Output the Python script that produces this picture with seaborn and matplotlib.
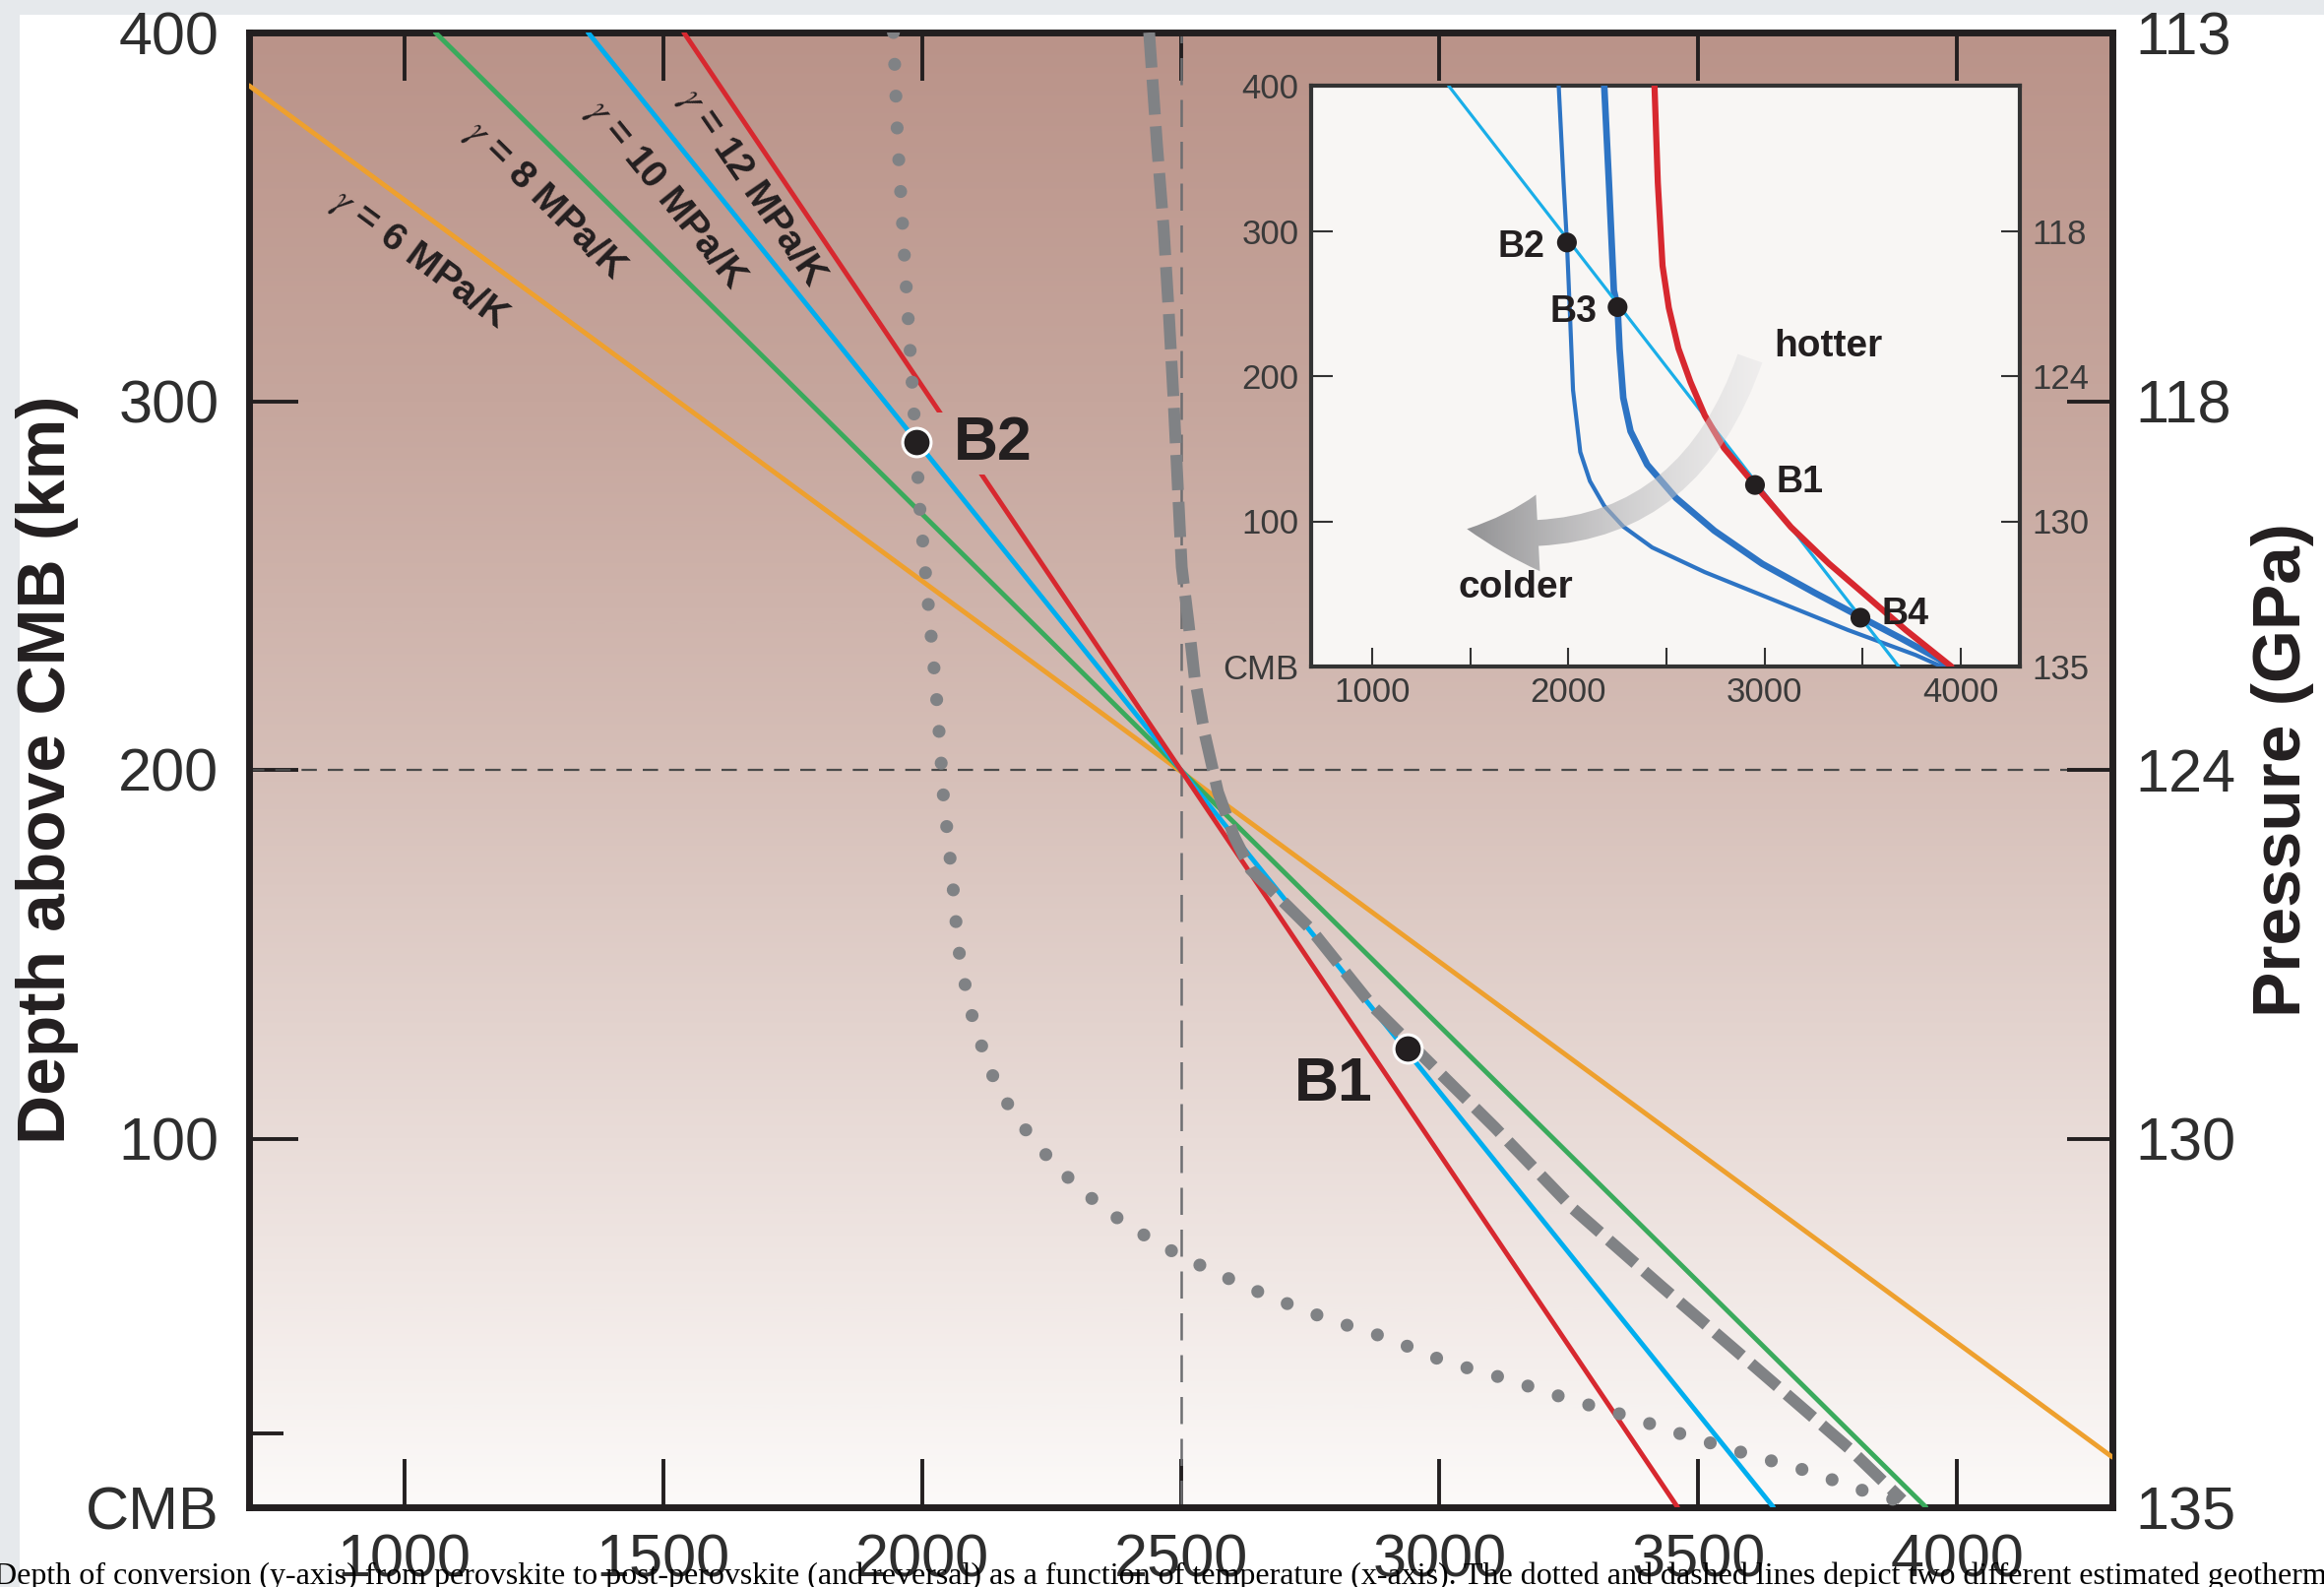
import numpy as np
import pandas as pd
import matplotlib
matplotlib.use("Agg")
import matplotlib.pyplot as plt
import seaborn as sns
from matplotlib.patches import Rectangle, FancyArrowPatch
from matplotlib.colors import LinearSegmentedColormap

# ---------------- data ----------------
depth_ticks = [400, 300, 200, 100, 0]
depth_ticklabels = ["400", "300", "200", "100", "CMB"]
pressure_ticklabels = ["113", "118", "124", "130", "135"]
inset_pressure_ticklabels = ["", "118", "124", "130", "135"]
temp_ticks = [1000, 1500, 2000, 2500, 3000, 3500, 4000]
temp_ticklabels = ["1000", "1500", "2000", "2500", "3000", "3500", "4000"]
inset_temp_ticks = [1000, 2000, 3000, 4000]
inset_temp_ticklabels = ["1000", "2000", "3000", "4000"]
inset_temp_minor = [1500, 2500, 3500]
minor_depth_ticks = [20]

ref_temperature = 2500
ref_depth = 200

# Clapeyron slopes (straight lines, endpoints)
gamma_names = ["$\\gamma$ = 6 MPa/K", "$\\gamma$ = 8 MPa/K",
               "$\\gamma$ = 10 MPa/K", "$\\gamma$ = 12 MPa/K"]
gamma6_T = [700, 4300]
gamma6_depth = [385.6, 13.6]
gamma8_T = [1060, 3940]
gamma8_depth = [400, 0]
gamma10_T = [1355, 3645]
gamma10_depth = [400, 0]
gamma12_T = [1540, 3460]
gamma12_depth = [400, 0]

# geotherms
dotted_T = [1945, 1953, 1968, 1985, 1996, 2011, 2027, 2036, 2040, 2059, 2070,
            2091, 2127, 2154, 2186, 2222, 2262, 2306, 2354, 2405, 2454, 2504,
            2561, 2673, 2785, 2897, 3011, 3124, 3243, 3356, 3475, 3595, 3707,
            3819, 3880]
dotted_depth = [400, 371, 335, 296, 271, 247, 222, 205, 195, 170, 152,
                136, 120, 112, 105, 98.5, 92, 86.5, 80.6, 76, 71.6, 68,
                64, 57, 51, 46, 39.5, 35, 29.6, 25, 19.5, 14.4, 10,
                4.5, 2]
dashed_T = [2439, 2454, 2467, 2477, 2486, 2494, 2502, 2515, 2527, 2546, 2572,
            2603, 2635, 2750, 2870, 3107, 3258, 3428, 3610, 3791, 3894]
dashed_depth = [400, 370, 347, 324, 301, 278, 255, 240, 225, 210, 194,
                182, 173, 157, 136, 103, 81, 60, 38, 16, 2]

b_main_T = [1990, 2938]
b_main_depth = [289, 124.5]

# inset
inset_cyan_T = [1390, 3683]
inset_cyan_depth = [400, 0]
inset_red_T = [2439, 2456, 2480, 2512, 2561, 2622, 2695, 2793, 2951, 3134,
               3329, 3524, 3720, 3951]
inset_red_depth = [400, 333, 276, 247, 219, 196, 173, 150.5, 125, 96,
                   70.7, 48, 25, 0]
inset_blue1_T = [1951, 1976, 1993, 2007, 2024, 2061, 2110, 2183, 2280, 2427,
                 2695, 3061, 3427, 3768, 3902]
inset_blue1_depth = [400, 333, 292, 247.5, 190.4, 147.7, 127.7, 110.6, 96.4,
                     82, 65, 45, 25, 8, 0]
inset_blue2_T = [2183, 2207, 2232, 2251, 2261, 2280, 2317, 2402, 2549, 2744,
                 2988, 3256, 3476, 3695, 3890, 3939]
inset_blue2_depth = [400, 333, 259, 247.5, 219, 185, 162, 139, 116, 93.5,
                     70.7, 50.7, 35, 19.4, 5, 0]
inset_b_names = ["B2", "B3", "B1", "B4"]
inset_b_T = [1993, 2251, 2951, 3488]
inset_b_depth = [292, 247.5, 125, 33.6]

caption = ("Depth of conversion (y-axis) from perovskite to post-perovskite "
           "(and reversal) as a function of temperature (x-axis). The dotted and "
           "dashed lines depict two different estimated geotherms")

# ---------------- style ----------------
W, H, DPI = 2361, 1612, 100
sns.set_theme(style="white")
plt.rcParams["font.family"] = ["Liberation Sans", "DejaVu Sans"]
plt.rcParams["mathtext.fontset"] = "stix"

INK = "#231f20"
TICKC = "#2e2e2e"
RED = "#d7282f"
CYAN = "#00aeef"
GREEN = "#3aaa5c"
ORANGE = "#eea02e"
GRAY = "#808285"
BLUE = "#2d74c4"

fig = plt.figure(figsize=(W / DPI, H / DPI), dpi=DPI)
fig.patch.set_facecolor("white")
fig.add_artist(Rectangle((0, 1 - 15 / H), 1, 15 / H, transform=fig.transFigure,
                         facecolor="#e6e9ec", edgecolor="none", zorder=0))
fig.add_artist(Rectangle((0, 0), 20 / W, 1, transform=fig.transFigure,
                         facecolor="#e6e9ec", edgecolor="none", zorder=0))

# ---------------- main axes ----------------
ax = fig.add_axes([253 / W, 81 / H, 1893 / W, 1498 / H])
ax.set_xlim(700, 4300)
ax.set_ylim(0, 400)

bg = LinearSegmentedColormap.from_list(
    "bg", ["#fcfaf9", "#e9dcd8", "#d6bfb8", "#c6a69d", "#ba9389"])
ax.imshow(np.linspace(0, 1, 512).reshape(-1, 1), extent=[700, 4300, 0, 400],
          origin="lower", aspect="auto", cmap=bg, zorder=0,
          interpolation="bilinear")

# reference lines
ax.axvline(ref_temperature, color="#6d6e71", lw=1.8, dashes=(11, 6), zorder=1)
ax.axhline(ref_depth, color="#4a4a4a", lw=1.6, dashes=(7, 5), zorder=1)

LW = 3.5
def straight(T, d, color):
    sns.lineplot(x=T, y=d, ax=ax, color=color, lw=LW, sort=False,
                 estimator=None, zorder=3)
    return ax.lines[-1]

straight(gamma6_T, gamma6_depth, ORANGE)
straight(gamma8_T, gamma8_depth, GREEN)
straight(gamma10_T, gamma10_depth, CYAN)
# red line is interrupted around the B2 label
l1 = straight(gamma12_T, gamma12_depth, RED)
l1.set_clip_path(Rectangle((700, 297), 3600, 103, transform=ax.transData))
l2 = straight(gamma12_T, gamma12_depth, RED)
l2.set_clip_path(Rectangle((700, 0), 3600, 280, transform=ax.transData))

# geotherms
sns.lineplot(x=dotted_T, y=dotted_depth, ax=ax, color=GRAY, lw=9.5,
             sort=False, estimator=None, zorder=4)
dl = ax.lines[-1]
dl.set_linestyle((0, (0.001, 2.45)))
dl.set_dash_capstyle("round")

sns.lineplot(x=dashed_T, y=dashed_depth, ax=ax, color=GRAY, lw=8.6,
             sort=False, estimator=None, zorder=4)
ax.lines[-1].set_linestyle((0, (3.0, 1.0)))
ax.lines[-1].set_dash_capstyle("butt")

sns.scatterplot(x=b_main_T, y=b_main_depth, ax=ax, s=430, color=INK,
                edgecolor="white", linewidth=2.2, zorder=6)
ax.text(2061, 288.6, "B2", fontsize=45, fontweight="bold", color=INK,
        ha="left", va="center", zorder=7)
ax.text(2795, 114.8, "B1", fontsize=45, fontweight="bold", color=INK,
        ha="center", va="center", zorder=7)

# gamma labels
for name, (tx, ty), rot in zip(gamma_names,
                               [(1031, 338.5), (1272, 354.5),
                                (1505, 356), (1672, 358)],
                               [-36.5, -44.5, -51, -55.5]):
    ax.text(tx, ty, name, fontsize=28, fontweight="bold", color=INK,
            rotation=rot, rotation_mode="anchor", ha="center", va="center",
            zorder=7)

ax.set_xticks(temp_ticks)
ax.set_xticklabels(temp_ticklabels)
ax.set_yticks(depth_ticks)
ax.set_yticklabels(depth_ticklabels)
ax.set_yticks(minor_depth_ticks, minor=True)
ax.tick_params(axis="x", which="major", direction="in", length=35, width=2.8,
               top=True, bottom=True, labeltop=False, labelsize=44, pad=19,
               colors=INK, labelcolor=TICKC)
ax.tick_params(axis="y", which="major", direction="in", length=36, width=2.8,
               left=True, right=False, labelsize=44, pad=22,
               colors=INK, labelcolor=TICKC)
ax.tick_params(axis="y", which="minor", direction="in", length=25, width=2.8,
               left=True, right=False, colors=INK)
for s in ax.spines.values():
    s.set_visible(True)
    s.set_linewidth(5)
    s.set_color(INK)
ax.set_xlabel("")
ax.set_ylabel("")
ax.grid(False)
ax.set_xlim(700, 4300)
ax.set_ylim(0, 400)

ax2 = ax.twinx()
ax2.set_ylim(0, 400)
ax2.set_yticks(depth_ticks)
ax2.set_yticklabels(pressure_ticklabels)
ax2.tick_params(axis="y", direction="in", length=33, width=2.8, right=True,
                labelsize=44, pad=17, colors=INK, labelcolor=TICKC)
for s in ax2.spines.values():
    s.set_visible(False)
ax2.grid(False)

fig.text(48 / W, 1 - 782 / H, "Depth above CMB (km)", rotation=90,
         fontsize=50, fontweight="bold", color=INK, ha="center", va="center")
fig.text(2319 / W, 1 - 782 / H, "Pressure (GPa)", rotation=90,
         fontsize=50, fontweight="bold", color=INK, ha="center", va="center")

# ---------------- inset ----------------
axi = fig.add_axes([1332 / W, 935 / H, 720 / W, 590 / H])
axi.set_facecolor("#f8f6f4")
axi.set_xlim(690, 4300)
axi.set_ylim(0, 400)

def iline(T, d, color, lw, z=3):
    sns.lineplot(x=T, y=d, ax=axi, color=color, lw=lw, sort=False,
                 estimator=None, zorder=z)

iline(inset_blue1_T, inset_blue1_depth, BLUE, 3.0)
iline(inset_blue2_T, inset_blue2_depth, BLUE, 4.8)
iline(inset_cyan_T, inset_cyan_depth, "#1aaee8", 2.3)
iline(inset_red_T, inset_red_depth, RED, 4.5, z=4)

# curved gradient arrow
arr = FancyArrowPatch((2930, 214), (1470, 95),
                      connectionstyle="arc3,rad=-0.42",
                      arrowstyle="simple,head_length=2.6,head_width=2.8,tail_width=0.95",
                      mutation_scale=20, transform=axi.transData,
                      facecolor="none", edgecolor="none", zorder=5)
axi.add_patch(arr)
gx = np.linspace(0, 1, 256)
rgba = np.zeros((2, 256, 4))
shade = 0.50 + 0.40 * gx
rgba[..., 0] = shade
rgba[..., 1] = shade
rgba[..., 2] = shade + 0.01
rgba[..., 3] = 0.92 - 0.60 * gx
im = axi.imshow(rgba, extent=[1400, 3080, 50, 250], origin="lower",
                aspect="auto", zorder=6, interpolation="bilinear")
im.set_clip_path(arr)

sns.scatterplot(x=inset_b_T, y=inset_b_depth, ax=axi, s=210, color=INK,
                edgecolor="none", linewidth=0, zorder=7)
for name, (tx, ty), ha in zip(inset_b_names,
                              [(1878, 289), (2146, 244), (3061, 127), (3598, 36)],
                              ["right", "right", "left", "left"]):
    axi.text(tx, ty, name, fontsize=27, fontweight="bold", color=INK,
             ha=ha, va="center", zorder=8)
axi.text(3049, 220, "hotter", fontsize=28, fontweight="bold", color=INK,
         ha="left", va="center", zorder=8)
axi.text(1439, 54.5, "colder", fontsize=28, fontweight="bold", color=INK,
         ha="left", va="center", zorder=8)

axi.set_xticks(inset_temp_ticks)
axi.set_xticklabels(inset_temp_ticklabels)
axi.set_xticks(inset_temp_minor, minor=True)
axi.set_yticks(depth_ticks)
axi.set_yticklabels(depth_ticklabels)
axi.tick_params(axis="x", which="both", direction="in", length=14, width=1.5,
                bottom=True, top=False, labelsize=25, pad=7, colors="#333333",
                labelcolor="#3a3a3a")
axi.tick_params(axis="y", direction="in", length=16, width=1.5, left=True,
                labelsize=25, pad=9, colors="#333333", labelcolor="#3a3a3a")
for s in axi.spines.values():
    s.set_visible(True)
    s.set_linewidth(3)
    s.set_color("#333333")
axi.set_xlabel("")
axi.set_ylabel("")
axi.grid(False)
axi.set_xlim(690, 4300)
axi.set_ylim(0, 400)

axi2 = axi.twinx()
axi2.set_ylim(0, 400)
axi2.set_yticks(depth_ticks)
axi2.set_yticklabels(inset_pressure_ticklabels)
axi2.tick_params(axis="y", direction="in", length=14, width=1.5, right=True,
                 labelsize=25, pad=9, colors="#333333", labelcolor="#3a3a3a")
for s in axi2.spines.values():
    s.set_visible(False)
axi2.grid(False)

# caption (runs off the right edge, as in the source)
fig.text(-6 / W, 3 / H, caption, fontfamily=["Liberation Serif", "DejaVu Serif"],
         fontsize=23, color="black", ha="left", va="baseline")

fig.savefig("out.png", dpi=DPI)
